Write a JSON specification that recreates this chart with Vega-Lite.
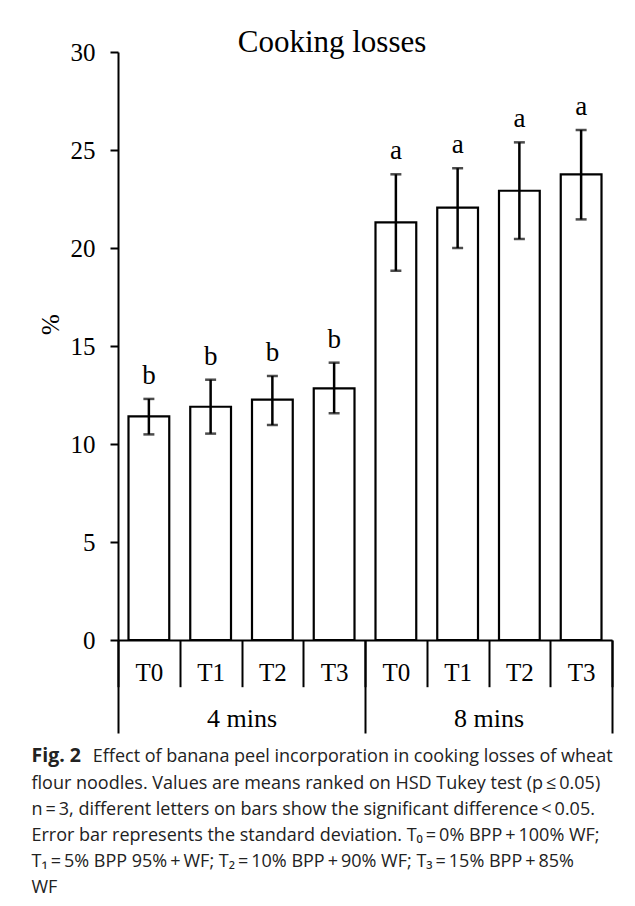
{
  "$schema": "https://vega.github.io/schema/vega-lite/v6.json",
  "width": 494,
  "height": 588,
  "autosize": {"type": "none"},
  "padding": {"left": 118, "top": 52, "right": 23, "bottom": 266},
  "background": "white",
  "config": {
    "view": {"stroke": null},
    "axis": {"grid": false, "domainColor": "black", "tickColor": "black", "labelColor": "black", "titleColor": "black", "domainWidth": 2, "tickWidth": 2}
  },
  "title": {
    "text": "Cooking losses",
    "font": "Liberation Serif",
    "fontSize": 31,
    "fontWeight": "normal",
    "color": "black",
    "anchor": "middle",
    "frame": "group",
    "dx": -33,
    "baseline": "alphabetic",
    "offset": -43
  },
  "data": {
    "values": [
      {"key": "4 mins T0", "time": "4 mins", "mean": 11.41, "lo": 10.49, "hi": 12.30, "letter": "b"},
      {"key": "4 mins T1", "time": "4 mins", "mean": 11.90, "lo": 10.53, "hi": 13.28, "letter": "b"},
      {"key": "4 mins T2", "time": "4 mins", "mean": 12.26, "lo": 10.97, "hi": 13.47, "letter": "b"},
      {"key": "4 mins T3", "time": "4 mins", "mean": 12.84, "lo": 11.57, "hi": 14.15, "letter": "b"},
      {"key": "8 mins T0", "time": "8 mins", "mean": 21.31, "lo": 18.84, "hi": 23.76, "letter": "a"},
      {"key": "8 mins T1", "time": "8 mins", "mean": 22.06, "lo": 20.00, "hi": 24.07, "letter": "a"},
      {"key": "8 mins T2", "time": "8 mins", "mean": 22.92, "lo": 20.46, "hi": 25.39, "letter": "a"},
      {"key": "8 mins T3", "time": "8 mins", "mean": 23.76, "lo": 21.46, "hi": 26.02, "letter": "a"}
    ]
  },
  "layer": [
    {
      "mark": {"type": "bar", "fill": "white", "stroke": "black", "strokeWidth": 2.2, "width": {"band": 0.66}},
      "encoding": {
        "x": {
          "field": "key", "type": "nominal", "scale": {"type": "band", "padding": 0},
          "axis": {
            "orient": "bottom", "labelExpr": "datum.label ? slice(datum.label, -2) : ''", "labelAngle": 0,
            "tickBand": "extent", "tickSize": 46.7, "labelPadding": -6, "labelBaseline": "alphabetic",
            "labelFont": "Liberation Serif", "labelFontSize": 25,
            "title": "Fig. 2", "titleFont": "Open Sans", "titleFontWeight": "bold", "titleFontSize": 19.5,
            "titleX": -87, "titleY": 121, "titleAlign": "left", "titleBaseline": "alphabetic", "titleAngle": 0, "titleColor": "#222"
          }
        },
        "y": {
          "field": "mean", "type": "quantitative", "scale": {"domain": [0, 30], "nice": false},
          "axis": {
            "orient": "left", "values": [0, 5, 10, 15, 20, 25, 30], "tickSize": 8, "labelPadding": 15,
            "labelFont": "Liberation Serif", "labelFontSize": 25,
            "title": "%", "titleFont": "Liberation Serif", "titleFontSize": 25, "titleFontWeight": "normal",
            "titleX": -68, "titleY": 272, "titleAlign": "center", "titleBaseline": "middle", "titleAngle": -90
          }
        }
      }
    },
    {
      "mark": {"type": "rule", "color": "black", "strokeWidth": 2.5},
      "encoding": {
        "x": {"field": "key", "type": "nominal", "scale": {"type": "band", "padding": 0}, "axis": null},
        "y": {"field": "lo", "type": "quantitative", "scale": {"domain": [0, 30], "nice": false}, "axis": null},
        "y2": {"field": "hi"}
      }
    },
    {
      "mark": {"type": "tick", "color": "black", "size": 11, "thickness": 2.5},
      "encoding": {
        "x": {"field": "key", "type": "nominal", "scale": {"type": "band", "padding": 0}, "axis": null},
        "y": {"field": "lo", "type": "quantitative", "scale": {"domain": [0, 30], "nice": false}, "axis": null}
      }
    },
    {
      "mark": {"type": "tick", "color": "black", "size": 11, "thickness": 2.5},
      "encoding": {
        "x": {"field": "key", "type": "nominal", "scale": {"type": "band", "padding": 0}, "axis": null},
        "y": {"field": "hi", "type": "quantitative", "scale": {"domain": [0, 30], "nice": false}, "axis": null}
      }
    },
    {
      "mark": {"type": "text", "font": "Liberation Serif", "fontSize": 27, "color": "black", "baseline": "alphabetic", "dy": -15},
      "encoding": {
        "x": {"field": "key", "type": "nominal", "scale": {"type": "band", "padding": 0}, "axis": null},
        "y": {"field": "hi", "type": "quantitative", "scale": {"domain": [0, 30], "nice": false}, "axis": null},
        "text": {"field": "letter"}
      }
    },
    {
      "mark": {"type": "rule", "opacity": 0},
      "encoding": {
        "x": {
          "field": "time", "type": "nominal", "scale": {"type": "band", "padding": 0},
          "axis": {
            "orient": "bottom", "domain": false, "labelAngle": 0,
            "tickBand": "extent", "tickSize": 93, "labelPadding": -7, "labelBaseline": "alphabetic",
            "labelFont": "Liberation Serif", "labelFontSize": 26,
            "title": "Effect of banana peel incorporation in cooking losses of wheat",
            "titleFont": "Open Sans", "titleFontWeight": "normal", "titleFontSize": 18,
            "titleX": -25.7, "titleY": 121, "titleAlign": "left", "titleBaseline": "alphabetic", "titleAngle": 0, "titleColor": "#222"
          }
        }
      }
    },
    {
      "mark": {"type": "rule", "opacity": 0},
      "encoding": {
        "y": {
          "field": "mean", "type": "quantitative",
          "axis": {
            "orient": "right", "domain": false, "ticks": false, "labels": false,
            "title": [
              "flour noodles. Values are means ranked on HSD Tukey test (p\u2009≤\u20090.05)",
              "n\u2009=\u20093, different letters on bars show the significant difference\u2009<\u20090.05.",
              "Error bar represents the standard deviation. T₀\u2009=\u20090% BPP\u2009+\u2009100% WF;",
              "T₁\u2009=\u20095% BPP 95%\u2009+\u2009WF; T₂\u2009=\u200910% BPP\u2009+\u200990% WF; T₃\u2009=\u200915% BPP\u2009+\u200985%",
              "WF"
            ],
            "titleFont": "Open Sans", "titleFontWeight": "normal", "titleFontSize": 18, "titleLineHeight": 26.2,
            "titleX": -581, "titleY": 736, "titleAlign": "left", "titleBaseline": "alphabetic", "titleAngle": 0, "titleColor": "#222"
          }
        }
      }
    }
  ],
  "resolve": {
    "scale": {"x": "independent", "y": "independent"},
    "axis": {"x": "independent", "y": "independent"}
  }
}
